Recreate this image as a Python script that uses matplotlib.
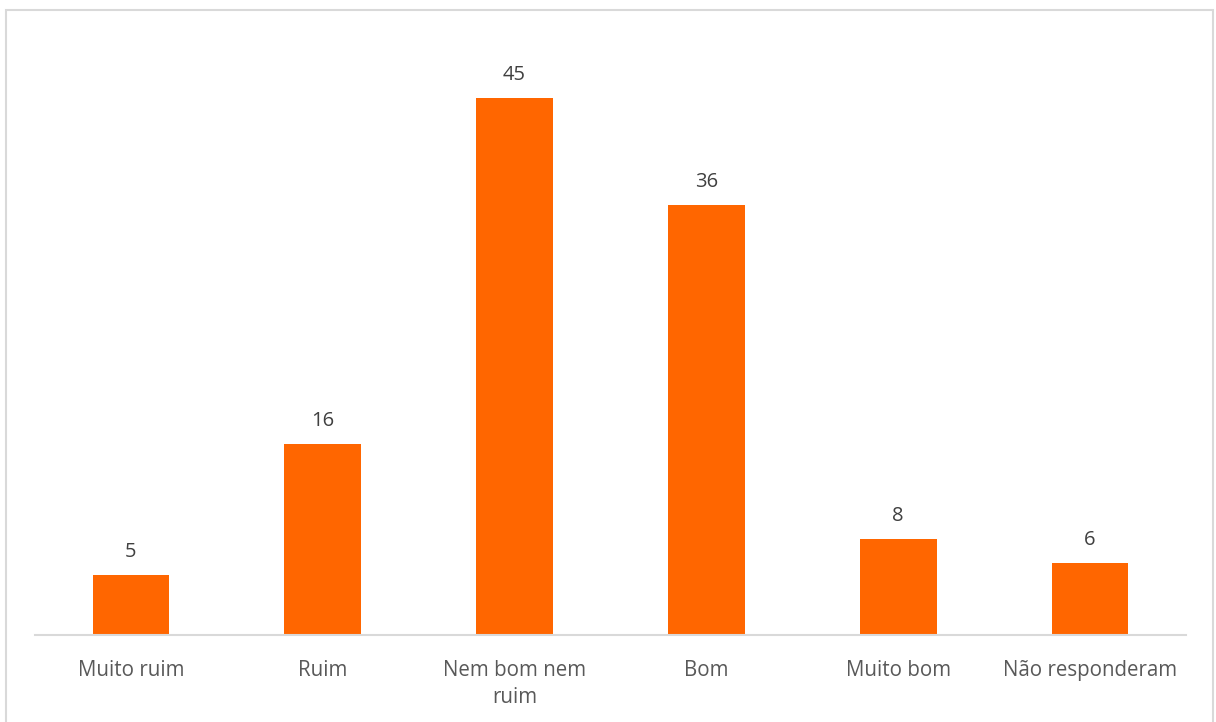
import matplotlib.pyplot as plt
from matplotlib.patches import Rectangle

categorias = ['Muito ruim', 'Ruim', 'Nem bom nem\nruim', 'Bom', 'Muito bom', 'Não responderam']
valores = [5, 16, 45, 36, 8, 6]

plt.rcParams['font.family'] = ['Open Sans', 'DejaVu Sans']

fig = plt.figure(figsize=(12.16, 7.22), dpi=100)
W, H = 1216, 722
ax = fig.add_axes([35 / W, (H - 635) / H, (1186 - 35) / W, (635 - 38) / H])

x = range(len(categorias))
rects = ax.bar(x, valores, width=0.4, color='#FF6600')
for rect, v in zip(rects, valores):
    ax.annotate(str(v), (rect.get_x() + rect.get_width() / 2, rect.get_height()),
                xytext=(0, 13), textcoords='offset pixels',
                ha='center', va='bottom', fontsize=14.5, color='#404040')

ax.set_xlim(-0.5, len(categorias) - 0.5)
ax.set_ylim(0, 50)
ax.set_yticks([])
ax.set_xticks(list(x))
ax.set_xticklabels(categorias, fontsize=14.8, color='#595959', linespacing=1.4)
ax.tick_params(axis='x', length=0, pad=18)
for s in ['top', 'right', 'left']:
    ax.spines[s].set_visible(False)
ax.spines['bottom'].set_color('#D9D9D9')
ax.spines['bottom'].set_linewidth(1.5)

# chart border
fig.patches.append(Rectangle((5.5 / W, -0.01), (1213 - 5.5) / W, (H - 9.5) / H + 0.01,
                             transform=fig.transFigure, fill=False,
                             edgecolor='#D9D9D9', linewidth=1.5))

fig.savefig('out.png', dpi=100)
